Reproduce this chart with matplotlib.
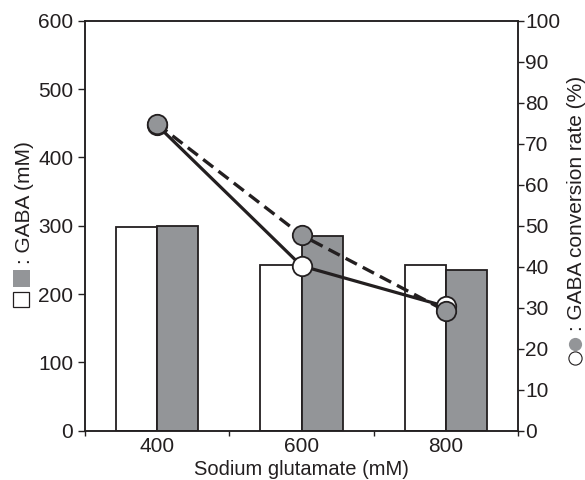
import matplotlib
matplotlib.use('Agg')
import matplotlib.pyplot as plt
from matplotlib.lines import Line2D
from matplotlib.patches import Rectangle

# ---- data ----
conc = [400, 600, 800]
x_labels = ['400', '600', '800']
gaba_white = [298, 243, 243]      # open bars (mM)
gaba_grey = [300, 285, 235]       # grey bars (mM)
rate_white = [74.5, 40.2, 30.3]   # open circles (%)
rate_grey = [74.8, 47.7, 29.2]    # grey circles (%)
left_ticks = [0, 100, 200, 300, 400, 500, 600]
right_ticks = [0, 10, 20, 30, 40, 50, 60, 70, 80, 90, 100]
boundary_ticks = [300, 500, 700, 900]

GREY = '#939598'
INK = '#231f20'
W, H = 585, 480

plt.rcParams['font.family'] = ['Liberation Sans', 'DejaVu Sans']
plt.rcParams['text.color'] = INK

fig = plt.figure(figsize=(W / 100, H / 100), dpi=100)
ax = fig.add_axes([85 / W, 1 - 430.7 / H, (518 - 85) / W, 410 / H])

bw = 57
ax.bar([c - bw / 2 for c in conc], gaba_white, width=bw, color='white',
       edgecolor=INK, linewidth=1.3, zorder=2)
ax.bar([c + bw / 2 for c in conc], gaba_grey, width=bw, color=GREY,
       edgecolor=INK, linewidth=1.3, zorder=2)

ax.set_xlim(300, 900)
ax.set_ylim(0, 600)
ax.set_yticks(left_ticks)
ax.set_xticks(boundary_ticks)
ax.set_xticklabels([])
ax.set_xticks(conc, minor=True)
ax.set_xticklabels(x_labels, minor=True)
ax.tick_params(axis='x', which='minor', length=0, pad=4.5, labelsize=15, labelcolor=INK)
ax.tick_params(axis='x', which='major', length=3.8, width=1.0, direction='out', color=INK)
ax.tick_params(axis='y', length=5, width=1.0, direction='out', pad=3.5, labelsize=15,
               color=INK, labelcolor=INK)
ax.set_xlabel('Sodium glutamate (mM)', fontsize=14.5, labelpad=3, color=INK)
for s in ax.spines.values():
    s.set_linewidth(1.1)
    s.set_color(INK)

ax2 = ax.twinx()
ax2.set_ylim(0, 100)
ax2.set_yticks(right_ticks)
ax2.tick_params(axis='y', length=4.3, width=1.0, direction='out', pad=1, labelsize=15,
                color=INK, labelcolor=INK)
for s in ax2.spines.values():
    s.set_linewidth(1.1)
    s.set_color(INK)

ax2.plot(conc, rate_white, color=INK, lw=2.3, marker='o', markersize=14,
         markerfacecolor='white', markeredgecolor=INK, markeredgewidth=1.3, zorder=3)
ax2.plot(conc, rate_grey, color=INK, lw=2.4, ls=(0, (3.8, 2.0)), marker='o', markersize=14,
         markerfacecolor=GREY, markeredgecolor=INK, markeredgewidth=1.3, zorder=4)


def fx(px):
    return px / W


def fy(py):
    return 1 - py / H


# left axis label with square keys
fig.add_artist(Rectangle((fx(12.5), fy(307)), 16.5 / W, 15 / H, transform=fig.transFigure,
                         facecolor='white', edgecolor=INK, linewidth=0.9))
fig.add_artist(Rectangle((fx(12.5), fy(287)), 17.5 / W, 17.5 / H, transform=fig.transFigure,
                         facecolor=GREY, edgecolor='none'))
fig.text(fx(30), fy(264), ': GABA (mM)', rotation=90, rotation_mode='anchor',
         ha='left', va='baseline', fontsize=15, color=INK)

# right axis label with circle keys
fig.add_artist(Line2D([fx(574.5)], [fy(357.5)], transform=fig.transFigure, marker='o',
                      markersize=9.5, markerfacecolor='white', markeredgecolor=INK,
                      markeredgewidth=0.8, linestyle='none'))
fig.add_artist(Line2D([fx(574.5)], [fy(344)], transform=fig.transFigure, marker='o',
                      markersize=9.5, markerfacecolor=GREY, markeredgecolor='none',
                      linestyle='none'))
fig.text(fx(582), fy(331), ': GABA conversion rate (%)', rotation=90, rotation_mode='anchor',
         ha='left', va='baseline', fontsize=15, color=INK)

fig.savefig('out.png', dpi=100)
